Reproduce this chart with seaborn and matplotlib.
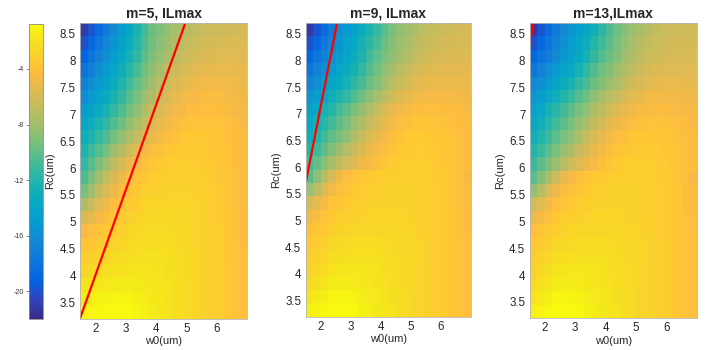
import numpy as np
import pandas as pd
import matplotlib
matplotlib.use("Agg")
import matplotlib.pyplot as plt
from matplotlib.colors import LinearSegmentedColormap
import seaborn as sns

# grid of the maps (cell centres, um)
w0_um = [1.625, 1.875, 2.125, 2.375, 2.625, 2.875, 3.125, 3.375, 3.625, 3.875, 4.125,
         4.375, 4.625, 4.875, 5.125, 5.375, 5.625, 5.875, 6.125, 6.375, 6.625, 6.875]
rc_um = [8.575, 8.325, 8.075, 7.825, 7.575, 7.325, 7.075, 6.825, 6.575, 6.325, 6.075,
         5.825, 5.575, 5.325, 5.075, 4.825, 4.575, 4.325, 4.075, 3.825, 3.575, 3.325]

# ILmax values (rows from top to bottom)
il_m5 = [
    [-21.1, -19.9, -18.6, -17.4, -16.2, -15.0, -13.7, -12.3, -10.9, -9.8, -9.1, -8.4, -7.8, -7.3, -7.0, -6.7, -6.5, -6.4, -6.3, -6.2, -6.1, -6.0],
    [-20.1, -18.9, -17.7, -16.6, -15.5, -14.3, -13.2, -11.9, -10.6, -9.6, -8.8, -8.1, -7.4, -6.9, -6.6, -6.3, -6.1, -5.95, -5.85, -5.8, -5.7, -5.7],
    [-19.1, -18.0, -16.9, -15.8, -14.7, -13.7, -12.6, -11.4, -10.2, -9.2, -8.4, -7.7, -7.0, -6.5, -6.2, -5.9, -5.8, -5.65, -5.55, -5.5, -5.5, -5.5],
    [-18.0, -17.0, -15.9, -14.9, -14.0, -12.9, -11.8, -10.7, -9.6, -8.6, -7.8, -7.0, -6.4, -5.9, -5.7, -5.4, -5.3, -5.2, -5.1, -5.1, -5.2, -5.2],
    [-17.0, -16.0, -15.1, -14.2, -13.3, -12.2, -11.0, -9.9, -9.0, -8.0, -7.1, -6.3, -5.8, -5.4, -5.1, -4.9, -4.8, -4.7, -4.7, -4.8, -4.9, -5.0],
    [-16.0, -15.1, -14.2, -13.3, -12.4, -11.4, -10.3, -9.2, -8.3, -7.4, -6.5, -5.8, -5.3, -4.9, -4.6, -4.5, -4.4, -4.4, -4.4, -4.6, -4.7, -4.9],
    [-14.9, -14.1, -13.2, -12.4, -11.5, -10.5, -9.4, -8.4, -7.5, -6.6, -5.9, -5.3, -4.8, -4.5, -4.3, -4.2, -4.1, -4.15, -4.2, -4.35, -4.5, -4.7],
    [-13.9, -13.1, -12.3, -11.4, -10.5, -9.5, -8.5, -7.6, -6.7, -5.9, -5.3, -4.8, -4.4, -4.1, -3.95, -3.85, -3.8, -3.85, -3.9, -4.1, -4.3, -4.5],
    [-13.0, -12.2, -11.3, -10.4, -9.4, -8.4, -7.5, -6.6, -5.8, -5.1, -4.7, -4.3, -3.95, -3.7, -3.55, -3.5, -3.55, -3.65, -3.8, -4.0, -4.2, -4.4],
    [-12.2, -11.2, -10.3, -9.3, -8.2, -7.2, -6.3, -5.5, -4.8, -4.3, -4.0, -3.7, -3.5, -3.35, -3.3, -3.35, -3.45, -3.6, -3.7, -3.9, -4.2, -4.4],
    [-11.5, -10.3, -9.1, -8.0, -6.9, -6.0, -5.1, -4.5, -4.0, -3.7, -3.4, -3.3, -3.2, -3.2, -3.2, -3.25, -3.35, -3.5, -3.7, -3.9, -4.2, -4.4],
    [-10.6, -9.2, -7.9, -6.7, -5.8, -5.0, -4.3, -3.9, -3.6, -3.3, -3.2, -3.1, -3.0, -3.0, -3.05, -3.15, -3.25, -3.4, -3.6, -3.8, -4.1, -4.4],
    [-9.3, -8.0, -6.7, -5.7, -5.0, -4.4, -3.9, -3.5, -3.2, -3.05, -2.95, -2.85, -2.8, -2.8, -2.85, -2.95, -3.1, -3.3, -3.5, -3.75, -4.05, -4.35],
    [-7.5, -6.5, -5.5, -4.8, -4.3, -3.8, -3.4, -3.1, -2.9, -2.75, -2.7, -2.7, -2.7, -2.7, -2.75, -2.9, -3.0, -3.2, -3.4, -3.7, -4.0, -4.35],
    [-5.8, -5.2, -4.6, -4.1, -3.7, -3.35, -3.05, -2.8, -2.65, -2.55, -2.5, -2.5, -2.55, -2.65, -2.75, -2.9, -3.0, -3.2, -3.4, -3.6, -3.95, -4.25],
    [-4.6, -4.2, -3.9, -3.55, -3.25, -2.95, -2.7, -2.55, -2.45, -2.4, -2.4, -2.4, -2.45, -2.55, -2.65, -2.8, -2.9, -3.1, -3.3, -3.6, -3.95, -4.25],
    [-3.8, -3.6, -3.3, -3.05, -2.8, -2.6, -2.4, -2.3, -2.25, -2.2, -2.2, -2.25, -2.35, -2.5, -2.6, -2.8, -2.9, -3.1, -3.3, -3.6, -3.9, -4.25],
    [-3.2, -3.0, -2.8, -2.6, -2.4, -2.25, -2.15, -2.1, -2.05, -2.0, -2.05, -2.15, -2.25, -2.4, -2.5, -2.7, -2.9, -3.1, -3.3, -3.6, -3.85, -4.15],
    [-2.6, -2.4, -2.3, -2.1, -2.0, -1.85, -1.8, -1.8, -1.8, -1.85, -1.95, -2.1, -2.2, -2.4, -2.5, -2.7, -2.9, -3.1, -3.3, -3.55, -3.85, -4.15],
    [-1.95, -1.85, -1.75, -1.65, -1.55, -1.5, -1.5, -1.55, -1.6, -1.7, -1.8, -2.0, -2.1, -2.3, -2.5, -2.7, -2.9, -3.1, -3.3, -3.55, -3.85, -4.15],
    [-1.45, -1.35, -1.25, -1.2, -1.15, -1.1, -1.15, -1.3, -1.4, -1.6, -1.7, -1.9, -2.1, -2.3, -2.5, -2.7, -2.9, -3.1, -3.3, -3.55, -3.85, -4.15],
    [-1.15, -1.05, -0.95, -0.9, -0.85, -0.9, -0.95, -1.1, -1.3, -1.5, -1.6, -1.8, -2.1, -2.3, -2.5, -2.7, -2.9, -3.1, -3.3, -3.55, -3.85, -4.15],
]

il_m9 = [
    [-21.1, -19.9, -18.6, -17.3, -16.0, -14.9, -14.3, -13.3, -12.3, -11.3, -10.2, -9.3, -8.6, -8.1, -7.6, -7.1, -6.8, -6.5, -6.4, -6.25, -6.15, -6.05],
    [-20.0, -18.8, -17.7, -16.5, -15.3, -14.4, -13.7, -12.7, -11.7, -10.7, -9.8, -8.9, -8.2, -7.7, -7.2, -6.8, -6.5, -6.2, -6.1, -6.0, -5.9, -5.85],
    [-18.9, -17.9, -16.8, -15.7, -14.7, -13.9, -13.2, -12.2, -11.0, -10.0, -9.3, -8.6, -7.9, -7.3, -6.8, -6.4, -6.1, -5.95, -5.85, -5.75, -5.7, -5.7],
    [-17.8, -16.8, -15.8, -14.9, -14.0, -13.2, -12.5, -11.5, -10.4, -9.5, -8.6, -7.9, -7.2, -6.6, -6.1, -5.8, -5.6, -5.5, -5.4, -5.4, -5.4, -5.4],
    [-16.7, -15.8, -14.9, -14.0, -13.3, -12.5, -11.6, -10.7, -9.8, -8.9, -8.0, -7.2, -6.5, -6.0, -5.6, -5.3, -5.2, -5.1, -5.0, -5.0, -5.1, -5.1],
    [-15.5, -14.7, -13.8, -13.0, -12.1, -11.3, -10.5, -9.6, -8.7, -7.8, -7.0, -6.3, -5.7, -5.2, -4.95, -4.75, -4.65, -4.6, -4.6, -4.65, -4.75, -4.85],
    [-14.4, -13.6, -12.7, -11.8, -10.9, -10.0, -9.3, -8.4, -7.5, -6.7, -5.9, -5.3, -4.9, -4.6, -4.3, -4.2, -4.1, -4.1, -4.2, -4.3, -4.4, -4.6],
    [-13.7, -12.7, -11.8, -10.9, -10.0, -9.2, -8.3, -7.5, -6.6, -5.9, -5.3, -4.8, -4.3, -4.0, -3.9, -3.8, -3.8, -3.85, -3.95, -4.1, -4.2, -4.4],
    [-13.0, -12.0, -10.9, -10.0, -9.3, -8.4, -7.5, -6.6, -5.8, -5.2, -4.7, -4.2, -3.8, -3.55, -3.45, -3.45, -3.5, -3.6, -3.7, -3.9, -4.1, -4.3],
    [-12.0, -11.0, -10.0, -9.0, -8.1, -7.2, -6.5, -5.8, -5.1, -4.6, -4.1, -3.8, -3.5, -3.4, -3.3, -3.3, -3.35, -3.45, -3.6, -3.8, -4.1, -4.3],
    [-11.0, -9.9, -8.8, -7.7, -6.9, -6.1, -5.5, -4.9, -4.5, -4.0, -3.7, -3.4, -3.3, -3.2, -3.2, -3.2, -3.25, -3.45, -3.6, -3.8, -4.0, -4.2],
    [-10.3, -8.7, -7.2, -5.9, -4.9, -4.3, -3.9, -3.6, -3.4, -3.3, -3.2, -3.1, -3.1, -3.1, -3.1, -3.15, -3.25, -3.4, -3.5, -3.8, -4.1, -4.5],
    [-8.3, -7.0, -5.6, -4.7, -4.2, -3.8, -3.5, -3.3, -3.2, -3.1, -3.0, -3.0, -2.95, -2.9, -2.95, -3.05, -3.15, -3.3, -3.4, -3.7, -4.0, -4.4],
    [-6.0, -5.2, -4.5, -3.9, -3.6, -3.4, -3.3, -3.1, -3.0, -2.9, -2.9, -2.9, -2.9, -2.9, -2.95, -3.05, -3.15, -3.3, -3.4, -3.7, -4.0, -4.4],
    [-4.9, -4.4, -3.9, -3.5, -3.2, -3.05, -2.95, -2.85, -2.75, -2.7, -2.7, -2.7, -2.75, -2.8, -2.85, -3.0, -3.1, -3.3, -3.4, -3.65, -3.95, -4.25],
    [-3.95, -3.65, -3.35, -3.05, -2.8, -2.65, -2.6, -2.6, -2.6, -2.6, -2.6, -2.6, -2.65, -2.75, -2.85, -3.0, -3.1, -3.3, -3.4, -3.65, -3.95, -4.25],
    [-3.55, -3.25, -2.95, -2.7, -2.5, -2.35, -2.3, -2.3, -2.3, -2.3, -2.35, -2.45, -2.55, -2.65, -2.75, -2.9, -3.05, -3.2, -3.4, -3.6, -3.9, -4.15],
    [-3.3, -2.9, -2.6, -2.3, -2.2, -2.1, -2.1, -2.1, -2.1, -2.15, -2.25, -2.35, -2.45, -2.6, -2.7, -2.9, -3.05, -3.2, -3.4, -3.6, -3.9, -4.15],
    [-2.9, -2.5, -2.2, -1.9, -1.8, -1.7, -1.7, -1.75, -1.85, -1.95, -2.1, -2.3, -2.4, -2.55, -2.65, -2.8, -3.0, -3.2, -3.4, -3.6, -3.9, -4.15],
    [-2.5, -2.1, -1.8, -1.55, -1.45, -1.45, -1.5, -1.6, -1.7, -1.9, -2.05, -2.2, -2.35, -2.5, -2.6, -2.8, -3.0, -3.2, -3.4, -3.6, -3.9, -4.15],
    [-1.85, -1.55, -1.3, -1.15, -1.1, -1.15, -1.25, -1.4, -1.55, -1.7, -1.9, -2.1, -2.2, -2.4, -2.6, -2.8, -3.0, -3.2, -3.4, -3.6, -3.9, -4.15],
    [-1.3, -1.1, -0.95, -0.9, -0.85, -0.9, -1.0, -1.2, -1.4, -1.6, -1.8, -2.0, -2.2, -2.4, -2.6, -2.8, -3.0, -3.2, -3.4, -3.6, -3.9, -4.15],
]

il_m13 = [
    [-21.1, -19.9, -18.6, -17.4, -16.3, -15.3, -14.6, -13.7, -12.9, -11.7, -10.6, -9.6, -8.9, -8.3, -7.8, -7.3, -6.8, -6.5, -6.4, -6.3, -6.2, -6.2],
    [-20.0, -18.9, -17.8, -16.8, -15.7, -14.8, -14.0, -13.1, -12.0, -11.0, -10.1, -9.2, -8.5, -7.8, -7.3, -6.8, -6.5, -6.25, -6.15, -6.1, -6.0, -6.0],
    [-18.9, -18.0, -17.1, -16.2, -15.3, -14.4, -13.5, -12.5, -11.4, -10.4, -9.7, -8.9, -8.2, -7.5, -6.9, -6.5, -6.2, -6.05, -5.95, -5.9, -5.9, -5.9],
    [-17.8, -16.9, -16.0, -15.1, -14.2, -13.4, -12.5, -11.5, -10.5, -9.6, -8.9, -8.1, -7.5, -6.9, -6.4, -6.0, -5.7, -5.6, -5.55, -5.5, -5.5, -5.5],
    [-16.6, -15.8, -14.9, -14.1, -13.2, -12.4, -11.5, -10.6, -9.7, -8.9, -8.2, -7.5, -6.8, -6.2, -5.8, -5.5, -5.3, -5.2, -5.15, -5.1, -5.2, -5.25],
    [-15.5, -14.7, -13.8, -12.9, -12.1, -11.2, -10.3, -9.5, -8.6, -7.8, -7.2, -6.5, -6.0, -5.5, -5.2, -4.9, -4.8, -4.7, -4.7, -4.75, -4.85, -4.95],
    [-14.4, -13.6, -12.7, -11.8, -10.9, -10.0, -9.3, -8.5, -7.6, -6.9, -6.2, -5.6, -5.2, -4.9, -4.6, -4.45, -4.35, -4.3, -4.35, -4.45, -4.55, -4.65],
    [-13.7, -12.8, -11.9, -10.9, -10.1, -9.2, -8.4, -7.6, -6.8, -6.1, -5.4, -4.9, -4.6, -4.3, -4.1, -3.95, -3.9, -3.95, -4.05, -4.2, -4.3, -4.5],
    [-13.0, -12.0, -11.1, -10.2, -9.3, -8.5, -7.6, -6.6, -5.9, -5.2, -4.8, -4.3, -4.0, -3.75, -3.65, -3.6, -3.6, -3.7, -3.8, -4.0, -4.2, -4.4],
    [-12.1, -11.1, -10.2, -9.2, -8.3, -7.4, -6.6, -5.9, -5.2, -4.6, -4.2, -3.9, -3.6, -3.5, -3.4, -3.4, -3.45, -3.6, -3.7, -3.9, -4.1, -4.3],
    [-11.1, -10.1, -9.2, -8.2, -7.2, -6.3, -5.6, -5.0, -4.5, -4.0, -3.7, -3.4, -3.3, -3.2, -3.2, -3.2, -3.25, -3.45, -3.6, -3.8, -4.0, -4.2],
    [-10.3, -8.9, -7.5, -6.3, -5.3, -4.6, -4.1, -3.7, -3.5, -3.35, -3.25, -3.15, -3.1, -3.1, -3.1, -3.15, -3.25, -3.4, -3.5, -3.8, -4.1, -4.5],
    [-8.4, -7.2, -5.9, -5.0, -4.4, -3.95, -3.65, -3.4, -3.2, -3.05, -3.0, -2.95, -2.9, -2.95, -3.0, -3.05, -3.15, -3.3, -3.4, -3.7, -4.0, -4.4],
    [-6.3, -5.5, -4.7, -4.1, -3.8, -3.5, -3.3, -3.1, -3.0, -2.9, -2.9, -2.9, -2.9, -2.95, -3.0, -3.05, -3.15, -3.3, -3.4, -3.7, -4.0, -4.4],
    [-5.0, -4.5, -4.0, -3.6, -3.3, -3.1, -2.95, -2.85, -2.75, -2.7, -2.7, -2.75, -2.8, -2.85, -2.9, -3.0, -3.1, -3.3, -3.4, -3.65, -3.95, -4.25],
    [-4.1, -3.7, -3.4, -3.1, -2.85, -2.7, -2.6, -2.6, -2.6, -2.6, -2.6, -2.6, -2.65, -2.75, -2.85, -3.0, -3.1, -3.3, -3.4, -3.65, -3.95, -4.25],
    [-3.55, -3.25, -2.95, -2.7, -2.5, -2.35, -2.3, -2.3, -2.3, -2.3, -2.35, -2.45, -2.55, -2.65, -2.75, -2.9, -3.05, -3.2, -3.4, -3.6, -3.9, -4.15],
    [-3.2, -2.85, -2.55, -2.3, -2.2, -2.1, -2.1, -2.1, -2.1, -2.15, -2.25, -2.35, -2.45, -2.6, -2.7, -2.9, -3.05, -3.2, -3.4, -3.6, -3.9, -4.15],
    [-2.8, -2.45, -2.15, -1.9, -1.8, -1.7, -1.7, -1.75, -1.85, -1.95, -2.1, -2.3, -2.4, -2.55, -2.65, -2.8, -3.0, -3.2, -3.4, -3.6, -3.9, -4.15],
    [-2.4, -2.05, -1.75, -1.55, -1.45, -1.45, -1.5, -1.6, -1.7, -1.9, -2.05, -2.2, -2.35, -2.5, -2.6, -2.8, -3.0, -3.2, -3.4, -3.6, -3.9, -4.15],
    [-1.85, -1.55, -1.3, -1.15, -1.1, -1.15, -1.25, -1.4, -1.55, -1.7, -1.9, -2.1, -2.2, -2.4, -2.6, -2.8, -3.0, -3.2, -3.4, -3.6, -3.9, -4.15],
    [-1.3, -1.1, -0.95, -0.9, -0.85, -0.9, -1.0, -1.2, -1.4, -1.6, -1.8, -2.0, -2.2, -2.4, -2.6, -2.8, -3.0, -3.2, -3.4, -3.6, -3.9, -4.15],
]

# red lines (end points in w0, Rc)
line_m5_w0 = [1.5, 4.95]
line_m5_rc = [3.2, 8.67]
line_m9_w0 = [1.52, 2.54]
line_m9_rc = [5.74, 8.67]
line_m13_w0 = [1.5, 1.62]
line_m13_rc = [8.3, 8.67]

titles = ["m=5, ILmax", "m=9, ILmax", "m=13,ILmax"]
cbar_ticks = [-20, -16, -12, -8, -4]

# parula-like colormap: (index in the 64 colour table, colour)
parula_pts = [
    (0, (0.2081, 0.1663, 0.5292)), (4, (0.1959, 0.2645, 0.7279)),
    (8, (0.0117, 0.3875, 0.8820)), (13, (0.0629, 0.4737, 0.8554)),
    (17, (0.0749, 0.5375, 0.8263)), (21, (0.0265, 0.6137, 0.8135)),
    (25, (0.0267, 0.6642, 0.7607)), (29, (0.1133, 0.7015, 0.6859)),
    (33, (0.2586, 0.7317, 0.5954)), (37, (0.4420, 0.7481, 0.5033)),
    (41, (0.6099, 0.7473, 0.4337)), (45, (0.7525, 0.7384, 0.3768)),
    (49, (0.8824, 0.7274, 0.3217)), (52, (0.9739, 0.7314, 0.2666)),
    (53, (0.9938, 0.7455, 0.2403)), (55, (0.9955, 0.7861, 0.1967)),
    (58, (0.9697, 0.8481, 0.1475)), (61, (0.9598, 0.9218, 0.0948)),
    (63, (0.9763, 0.9831, 0.0538)),
]
parula = LinearSegmentedColormap.from_list(
    "parula", [(i / 63, c) for i, c in parula_pts])

sns.set_theme(style="white")
plt.rcParams['font.family'] = ['Liberation Sans', 'DejaVu Sans']

W, H = 710, 350


def px_rect(l, t, r, b):
    return [l / W, 1 - b / H, (r - l) / W, (b - t) / H]


fig = plt.figure(figsize=(7.1, 3.5), dpi=100)
cax = fig.add_axes(px_rect(29, 24, 43, 319))

panels = [
    (il_m5, line_m5_w0, line_m5_rc, px_rect(80, 23, 247, 318.5)),
    (il_m9, line_m9_w0, line_m9_rc, px_rect(305.5, 23, 471, 316.5)),
    (il_m13, line_m13_w0, line_m13_rc, px_rect(529.5, 23, 697, 318)),
]

for i, (vals, lx, ly, rect) in enumerate(panels):
    ax = fig.add_axes(rect)
    df = pd.DataFrame(np.array(vals, dtype=float), index=rc_um, columns=w0_um)
    sns.heatmap(df, ax=ax, cmap=parula, vmin=-22, vmax=-0.76,
                cbar=(i == 0), cbar_ax=cax if i == 0 else None,
                xticklabels=False, yticklabels=False)
    ax.set_xlabel("")
    ax.set_ylabel("")
    if i == 0:
        cb = ax.collections[0].colorbar
        cb.set_ticks(cbar_ticks)
        cb.set_ticklabels([str(t) for t in cbar_ticks])
        cb.outline.set_edgecolor("#8a8a8a")
        cb.outline.set_linewidth(0.6)
        cax.yaxis.set_ticks_position("left")
        cax.tick_params(labelsize=5, length=2, width=0.4, pad=2, colors="#333333")

    # overlay axes in data units for ticks and the red line
    ax2 = fig.add_axes(rect)
    ax2.patch.set_alpha(0)
    sns.lineplot(x=lx, y=ly, ax=ax2, color="red", linewidth=1.6)
    ax2.set_xlim(1.5, 7.0)
    ax2.set_ylim(3.2, 8.7)
    ax2.set_xticks([2, 3, 4, 5, 6])
    ax2.set_xticklabels(["2", "3", "4", "5", "6"])
    yt = [3.5, 4, 4.5, 5, 5.5, 6, 6.5, 7, 7.5, 8, 8.5]
    ax2.set_yticks(yt)
    ax2.set_yticklabels([f"{v:g}" for v in yt])
    ax2.tick_params(length=0, labelsize=8.3, pad=3, colors="#262626")
    for s in ax2.spines.values():
        s.set_color("#b5b5b5")
        s.set_linewidth(0.6)
    ax2.set_xlabel("w0(um)", fontsize=8, labelpad=1, color="#262626")
    ax2.set_ylabel("Rc(um)", fontsize=8, labelpad=3, color="#262626")
    ax2.set_title(titles[i], fontsize=10, fontweight="bold", pad=4)

fig.savefig("out.png", dpi=100)
